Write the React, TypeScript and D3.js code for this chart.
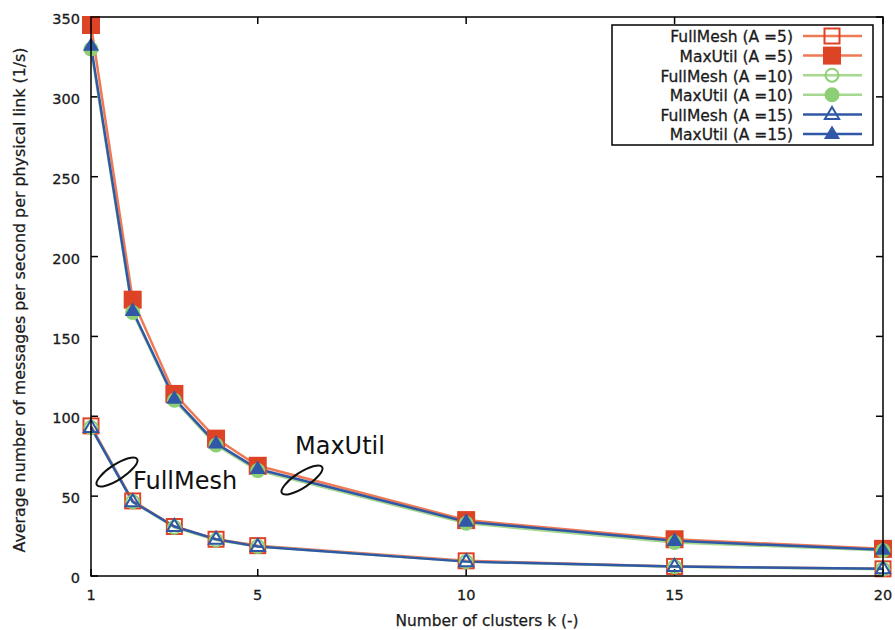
import React from "react";
import * as d3 from "d3";

const kValues = [1, 2, 3, 4, 5, 10, 15, 20];
const fullMeshA5 = [94, 47, 31, 23, 19, 9.5, 6, 4.5];
const maxUtilA5 = [345, 173, 114, 86, 69, 35, 23, 17];
const fullMeshA10 = [93, 46.5, 30.5, 22.5, 18.5, 9, 5.8, 4.3];
const maxUtilA10 = [330, 165, 110, 82, 66, 33, 21, 16];
const fullMeshA15 = [93, 46.5, 31, 23, 18.5, 9, 6, 4.5];
const maxUtilA15 = [332, 166, 111, 83, 67, 34, 22, 16.5];

const xTicks = [1, 5, 10, 15, 20];
const yTicks = [0, 50, 100, 150, 200, 250, 300, 350];

const seriesLabels = [
  "FullMesh (A =5)",
  "MaxUtil (A =5)",
  "FullMesh (A =10)",
  "MaxUtil (A =10)",
  "FullMesh (A =15)",
  "MaxUtil (A =15)",
];

const RED_LINE = "#ee7a55";
const RED = "#dd4426";
const GREEN_LINE = "#a6d98f";
const GREEN = "#8ccf74";
const BLUE = "#3058a6";

type Series = {
  label: string;
  values: number[];
  line: string;
  mark: string;
  shape: "square" | "circle" | "triangle";
  filled: boolean;
};

const series: Series[] = [
  { label: seriesLabels[0], values: fullMeshA5, line: RED_LINE, mark: RED, shape: "square", filled: false },
  { label: seriesLabels[1], values: maxUtilA5, line: RED_LINE, mark: RED, shape: "square", filled: true },
  { label: seriesLabels[2], values: fullMeshA10, line: GREEN_LINE, mark: GREEN, shape: "circle", filled: false },
  { label: seriesLabels[3], values: maxUtilA10, line: GREEN_LINE, mark: GREEN, shape: "circle", filled: true },
  { label: seriesLabels[4], values: fullMeshA15, line: BLUE, mark: BLUE, shape: "triangle", filled: false },
  { label: seriesLabels[5], values: maxUtilA15, line: BLUE, mark: BLUE, shape: "triangle", filled: true },
];

const FONT = "'DejaVu Sans', sans-serif";
const TXT = "#1a1a1a";

function Marker({ s, x, y }: { s: Series; x: number; y: number }) {
  if (s.shape === "square") {
    const h = s.filled ? 9 : 7.5;
    return (
      <rect
        x={x - h}
        y={y - h}
        width={2 * h}
        height={2 * h}
        fill={s.filled ? s.mark : "none"}
        stroke={s.mark}
        strokeWidth={s.filled ? 0 : 2}
      />
    );
  }
  if (s.shape === "circle") {
    const r = s.filled ? 7.5 : 6.5;
    return (
      <circle
        cx={x}
        cy={y}
        r={r}
        fill={s.filled ? s.mark : "none"}
        stroke={s.mark}
        strokeWidth={s.filled ? 0 : 2}
      />
    );
  }
  const r = s.filled ? 8.5 : 7.5;
  const pts = [
    [x, y - r],
    [x + r * 0.95, y + r * 0.6],
    [x - r * 0.95, y + r * 0.6],
  ];
  return (
    <polygon
      points={pts.map((p) => p.join(",")).join(" ")}
      fill={s.filled ? s.mark : "white"}
      fillOpacity={s.filled ? 1 : 0}
      stroke={s.mark}
      strokeWidth={s.filled ? 0 : 2}
    />
  );
}

export default function App() {
  const W = 895;
  const H = 630;
  const left = 91;
  const right = 883;
  const top = 17;
  const bottom = 576;

  const x = d3.scaleLinear().domain([1, 20]).range([left, right]);
  const y = d3.scaleLinear().domain([0, 350]).range([bottom, top]);

  const line = d3
    .line<number>()
    .x((_, i) => x(kValues[i]))
    .y((d) => y(d));

  const tickLen = 7;

  const legLeft = 612;
  const legTop = 25;
  const legW = 261;
  const legH = 120;
  const legRowY = (i: number) => 36 + i * 19.6;

  return (
    <svg
      width={W}
      height={H}
      style={{ position: "absolute", left: 0, top: 0, background: "white" }}
    >
      <rect x={0} y={0} width={W} height={H} fill="white" />
      <defs>
        <clipPath id="plotclip">
          <rect x={left - 12} y={top - 12} width={right - left + 24} height={bottom - top + 24} />
        </clipPath>
      </defs>

      {/* ticks */}
      {yTicks.map((t) => (
        <g key={"y" + t}>
          <line x1={left} x2={left + tickLen} y1={y(t)} y2={y(t)} stroke="black" strokeWidth={1.5} />
          <line x1={right} x2={right - tickLen} y1={y(t)} y2={y(t)} stroke="black" strokeWidth={1.5} />
          <text
            x={left - 11}
            y={y(t) + 2}
            dy="0.35em"
            textAnchor="end"
            fontFamily={FONT}
            fontSize={14.5}
            fill={TXT}
            stroke={TXT}
            strokeWidth={0.3}
          >
            {t}
          </text>
        </g>
      ))}
      {xTicks.map((t) => (
        <g key={"x" + t}>
          <line x1={x(t)} x2={x(t)} y1={bottom} y2={bottom - tickLen} stroke="black" strokeWidth={1.5} />
          <line x1={x(t)} x2={x(t)} y1={top} y2={top + tickLen} stroke="black" strokeWidth={1.5} />
          <text
            x={x(t)}
            y={600}
            textAnchor="middle"
            fontFamily={FONT}
            fontSize={14.5}
            fill={TXT}
            stroke={TXT}
            strokeWidth={0.3}
          >
            {t}
          </text>
        </g>
      ))}

      {/* axis titles */}
      <text
        x={487}
        y={626}
        textAnchor="middle"
        fontFamily={FONT}
        fontSize={15.5}
        textLength={183}
        lengthAdjust="spacingAndGlyphs"
        fill={TXT}
        stroke={TXT}
        strokeWidth={0.25}
      >
        Number of clusters k (-)
      </text>
      <text
        transform={`translate(25, 300) rotate(-90)`}
        textAnchor="middle"
        fontFamily={FONT}
        fontSize={15.5}
        textLength={505}
        lengthAdjust="spacingAndGlyphs"
        fill={TXT}
        stroke={TXT}
        strokeWidth={0.25}
      >
        Average number of messages per second per physical link (1/s)
      </text>

      {/* series */}
      <g clipPath="url(#plotclip)">
        {series.map((s) => (
          <path key={"l" + s.label} d={line(s.values) || ""} fill="none" stroke={s.line} strokeWidth={2.5} />
        ))}
        {series.map((s) => (
          <g key={"m" + s.label}>
            {s.values.map((v, i) => (
              <Marker key={i} s={s} x={x(kValues[i])} y={y(v)} />
            ))}
          </g>
        ))}
      </g>

      {/* frame */}
      <rect
        x={left}
        y={top}
        width={right - left}
        height={bottom - top}
        fill="none"
        stroke="black"
        strokeWidth={1.5}
      />

      {/* annotations */}
      <ellipse
        cx={117}
        cy={472}
        rx={24}
        ry={7.5}
        fill="none"
        stroke="#111"
        strokeWidth={2}
        transform="rotate(-33 117 472)"
      />
      <text x={133} y={489} fontFamily={FONT} fontSize={24} fill="#111">
        FullMesh
      </text>
      <ellipse
        cx={302}
        cy={480}
        rx={24}
        ry={7.5}
        fill="none"
        stroke="#111"
        strokeWidth={2}
        transform="rotate(-33 302 480)"
      />
      <text x={295} y={454} fontFamily={FONT} fontSize={24} fill="#111">
        MaxUtil
      </text>

      {/* legend */}
      <rect x={legLeft} y={legTop} width={legW} height={legH} fill="white" stroke="black" strokeWidth={1.5} />
      {series.map((s, i) => (
        <g key={"lg" + s.label}>
          <text
            x={793}
            y={legRowY(i) + 1}
            dy="0.35em"
            textAnchor="end"
            fontFamily={FONT}
            fontSize={15.5}
            fill={TXT}
            stroke={TXT}
            strokeWidth={0.3}
          >
            {s.label}
          </text>
          <line x1={803} x2={862} y1={legRowY(i)} y2={legRowY(i)} stroke={s.line} strokeWidth={2.5} />
          <Marker s={s} x={832} y={legRowY(i)} />
        </g>
      ))}
    </svg>
  );
}
